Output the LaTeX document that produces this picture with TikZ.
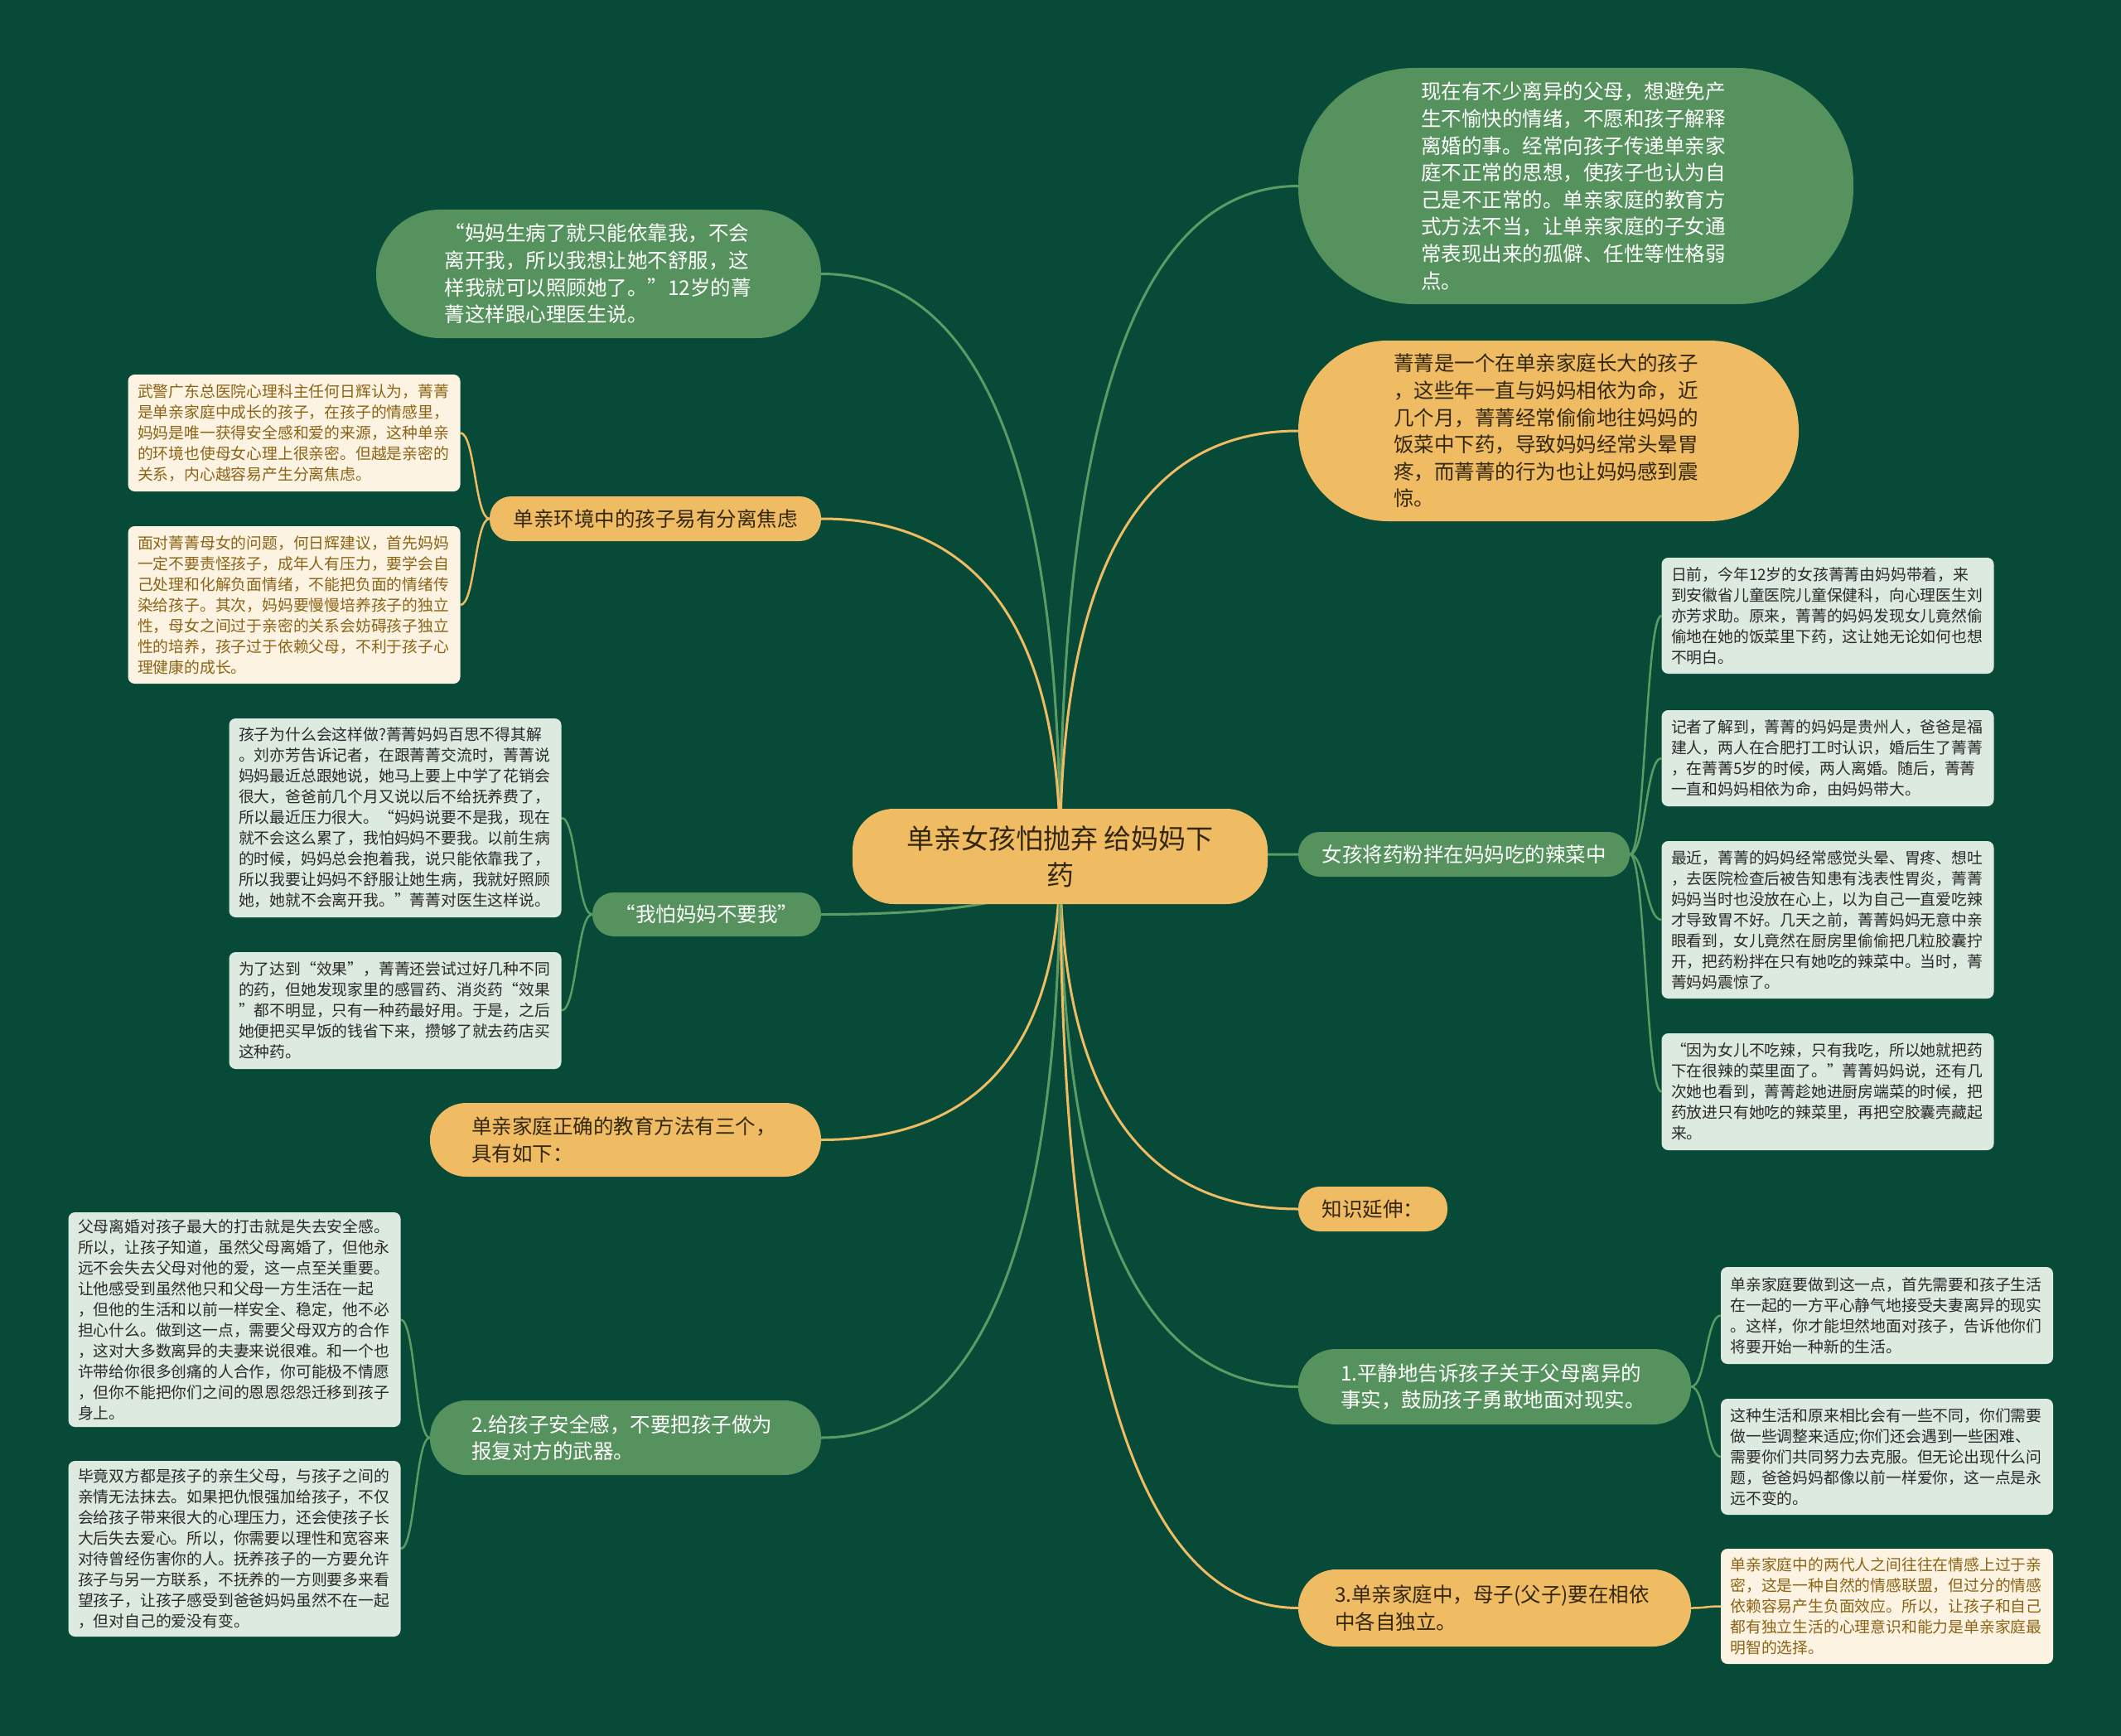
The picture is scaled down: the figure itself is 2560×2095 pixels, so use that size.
\documentclass[tikz,border=0pt]{standalone}
\usepackage{fontspec}
\setmainfont{Noto Sans CJK SC}
\usetikzlibrary{calc,backgrounds}
\definecolor{bgC}{HTML}{074A38}
\definecolor{greenC}{HTML}{56925E}
\definecolor{orangeC}{HTML}{F0BC63}
\definecolor{mintC}{HTML}{DDEAE0}
\definecolor{creamC}{HTML}{FDF3E3}
\definecolor{creamT}{HTML}{8B6415}
\definecolor{darkT}{HTML}{33270F}
\definecolor{boxT}{HTML}{2A2A2A}
\definecolor{lineG}{HTML}{5B9C64}
\definecolor{lineO}{HTML}{F0BC63}
\newcommand\mmmain[3]{\draw[#3] let \p1=(#1), \p2=(#2) in (\p1) .. controls (\x1,{\y1+0.667*(\y2-\y1)}) and ({\x2+0.667*(\x1-\x2)},\y2) .. (\p2);}
\newcommand\mmsub[3]{\draw[#3] let \p1=(#1), \p2=(#2) in (\p1) .. controls ({(\x1+\x2)/2},\y1) and ({(\x1+\x2)/2},\y2) .. (\p2);}
\begin{document}
\begin{tikzpicture}[x=1pt,y=-1pt,
  ctrnode/.style={fill=orangeC, text=darkT, rounded corners=50pt, minimum width=501pt, minimum height=115pt, align=center, inner sep=0pt, font=\fontsize{33}{44}\selectfont},
  gnode/.style={fill=greenC, text=white, inner sep=0pt, align=left, font=\fontsize{24.5}{32.6}\selectfont},
  onode/.style={fill=orangeC, text=darkT, inner sep=0pt, align=left, font=\fontsize{24.5}{32.6}\selectfont},
  mbox/.style={fill=mintC, text=boxT, rounded corners=8pt, inner sep=0pt, align=left, text width=378pt, minimum width=401pt, font=\fontsize{18.8}{25}\selectfont},
  cbox/.style={fill=creamC, text=creamT, rounded corners=8pt, inner sep=0pt, align=left, text width=378pt, minimum width=401pt, font=\fontsize{18.8}{25}\selectfont},
  mainG/.style={draw=lineG, line width=3pt},
  mainO/.style={draw=lineO, line width=3pt},
  subG/.style={draw=lineG, line width=2.5pt},
  subO/.style={draw=lineO, line width=2.5pt}]
\begin{scope}[on background layer]
\fill[bgC] (0,0) rectangle (2560,2095);
\end{scope}
\useasboundingbox (0,0) rectangle (2560,2095);

% centre
\node[ctrnode] (ctr) at (1279.5,1033.5) {单亲女孩怕抛弃 给妈妈下\\药};

% upper / right main branches
\node[gnode, minimum width=537pt, minimum height=155pt, rounded corners=77pt, text width=372pt] (tl) at (722.5,330.5)
{“妈妈生病了就只能依靠我，不会\\离开我，所以我想让她不舒服，这\\样我就可以照顾她了。”12岁的菁\\菁这样跟心理医生说。};
\node[gnode, minimum width=670pt, minimum height=285pt, rounded corners=140pt, text width=374pt] (tr) at (1902,224.5)
{现在有不少离异的父母，想避免产\\生不愉快的情绪，不愿和孩子解释\\离婚的事。经常向孩子传递单亲家\\庭不正常的思想，使孩子也认为自\\己是不正常的。单亲家庭的教育方\\式方法不当，让单亲家庭的子女通\\常表现出来的孤僻、任性等性格弱\\点。};
\node[onode, minimum width=604pt, minimum height=218pt, rounded corners=108pt, text width=374pt] (r2) at (1869,520)
{菁菁是一个在单亲家庭长大的孩子\\，这些年一直与妈妈相依为命，近\\几个月，菁菁经常偷偷地往妈妈的\\饭菜中下药，导致妈妈经常头晕胃\\疼，而菁菁的行为也让妈妈感到震\\惊。};
\node[gnode, minimum width=400pt, minimum height=54pt, rounded corners=26pt, align=center] (r3) at (1767,1031) {女孩将药粉拌在妈妈吃的辣菜中};
\node[onode, minimum width=180pt, minimum height=54pt, rounded corners=26pt, align=center] (r4) at (1657,1459) {知识延伸：};
\node[gnode, minimum width=474pt, minimum height=91pt, rounded corners=45pt, text width=372pt] (r5) at (1804,1673.5)
{1.平静地告诉孩子关于父母离异的\\事实，鼓励孩子勇敢地面对现实。};
\node[onode, minimum width=474pt, minimum height=93pt, rounded corners=46pt, text width=386pt] (r6) at (1804,1940.5)
{3.单亲家庭中，母子(父子)要在相依\\中各自独立。};

% left main branches
\node[onode, minimum width=400pt, minimum height=54pt, rounded corners=26pt, align=center] (l1) at (791,626) {单亲环境中的孩子易有分离焦虑};
\node[gnode, minimum width=276pt, minimum height=53pt, rounded corners=26pt, align=center] (l2) at (853,1103.5) {“我怕妈妈不要我”};
\node[onode, minimum width=472pt, minimum height=89pt, rounded corners=44pt, text width=372pt] (l3) at (755,1375.5)
{单亲家庭正确的教育方法有三个，\\具有如下：};
\node[gnode, minimum width=472pt, minimum height=90pt, rounded corners=44pt, text width=372pt] (l4) at (755,1735)
{2.给孩子安全感，不要把孩子做为\\报复对方的武器。};

% left boxes
\node[cbox, minimum height=141pt] (la) at (355,522.5)
{武警广东总医院心理科主任何日辉认为，菁菁\\是单亲家庭中成长的孩子，在孩子的情感里，\\妈妈是唯一获得安全感和爱的来源，这种单亲\\的环境也使母女心理上很亲密。但越是亲密的\\关系，内心越容易产生分离焦虑。};
\node[cbox, minimum height=190pt] (lb) at (355,730)
{面对菁菁母女的问题，何日辉建议，首先妈妈\\一定不要责怪孩子，成年人有压力，要学会自\\己处理和化解负面情绪，不能把负面的情绪传\\染给孩子。其次，妈妈要慢慢培养孩子的独立\\性，母女之间过于亲密的关系会妨碍孩子独立\\性的培养，孩子过于依赖父母，不利于孩子心\\理健康的成长。};
\node[mbox, minimum height=240pt] (lc) at (477,987)
{孩子为什么会这样做?菁菁妈妈百思不得其解\\。刘亦芳告诉记者，在跟菁菁交流时，菁菁说\\妈妈最近总跟她说，她马上要上中学了花销会\\很大，爸爸前几个月又说以后不给抚养费了，\\所以最近压力很大。“妈妈说要不是我，现在\\就不会这么累了，我怕妈妈不要我。以前生病\\的时候，妈妈总会抱着我，说只能依靠我了，\\所以我要让妈妈不舒服让她生病，我就好照顾\\她，她就不会离开我。”菁菁对医生这样说。};
\node[mbox, minimum height=141pt] (ld) at (477,1219.5)
{为了达到“效果”，菁菁还尝试过好几种不同\\的药，但她发现家里的感冒药、消炎药“效果\\”都不明显，只有一种药最好用。于是，之后\\她便把买早饭的钱省下来，攒够了就去药店买\\这种药。};
\node[mbox, minimum height=259pt] (le) at (283,1592.5)
{父母离婚对孩子最大的打击就是失去安全感。\\所以，让孩子知道，虽然父母离婚了，但他永\\远不会失去父母对他的爱，这一点至关重要。\\让他感受到虽然他只和父母一方生活在一起\\，但他的生活和以前一样安全、稳定，他不必\\担心什么。做到这一点，需要父母双方的合作\\，这对大多数离异的夫妻来说很难。和一个也\\许带给你很多创痛的人合作，你可能极不情愿\\，但你不能把你们之间的恩恩怨怨迁移到孩子\\身上。};
\node[mbox, minimum height=212pt] (lf) at (283,1869)
{毕竟双方都是孩子的亲生父母，与孩子之间的\\亲情无法抹去。如果把仇恨强加给孩子，不仅\\会给孩子带来很大的心理压力，还会使孩子长\\大后失去爱心。所以，你需要以理性和宽容来\\对待曾经伤害你的人。抚养孩子的一方要允许\\孩子与另一方联系，不抚养的一方则要多来看\\望孩子，让孩子感受到爸爸妈妈虽然不在一起\\，但对自己的爱没有变。};

% right boxes
\node[mbox, minimum height=140pt] (ra) at (2206,743)
{日前，今年12岁的女孩菁菁由妈妈带着，来\\到安徽省儿童医院儿童保健科，向心理医生刘\\亦芳求助。原来，菁菁的妈妈发现女儿竟然偷\\偷地在她的饭菜里下药，这让她无论如何也想\\不明白。};
\node[mbox, minimum height=116pt] (rb) at (2206,915)
{记者了解到，菁菁的妈妈是贵州人，爸爸是福\\建人，两人在合肥打工时认识，婚后生了菁菁\\，在菁菁5岁的时候，两人离婚。随后，菁菁\\一直和妈妈相依为命，由妈妈带大。};
\node[mbox, minimum height=190pt] (rc) at (2206,1110)
{最近，菁菁的妈妈经常感觉头晕、胃疼、想吐\\，去医院检查后被告知患有浅表性胃炎，菁菁\\妈妈当时也没放在心上，以为自己一直爱吃辣\\才导致胃不好。几天之前，菁菁妈妈无意中亲\\眼看到，女儿竟然在厨房里偷偷把几粒胶囊拧\\开，把药粉拌在只有她吃的辣菜中。当时，菁\\菁妈妈震惊了。};
\node[mbox, minimum height=141pt] (rd) at (2206,1317.5)
{“因为女儿不吃辣，只有我吃，所以她就把药\\下在很辣的菜里面了。”菁菁妈妈说，还有几\\次她也看到，菁菁趁她进厨房端菜的时候，把\\药放进只有她吃的辣菜里，再把空胶囊壳藏起\\来。};
\node[mbox, minimum height=117pt] (re) at (2277.5,1587.5)
{单亲家庭要做到这一点，首先需要和孩子生活\\在一起的一方平心静气地接受夫妻离异的现实\\。这样，你才能坦然地面对孩子，告诉他你们\\将要开始一种新的生活。};
\node[mbox, minimum height=140pt] (rf) at (2277.5,1758)
{这种生活和原来相比会有一些不同，你们需要\\做一些调整来适应;你们还会遇到一些困难、\\需要你们共同努力去克服。但无论出现什么问\\题，爸爸妈妈都像以前一样爱你，这一点是永\\远不变的。};
\node[cbox, minimum height=139pt] (rg) at (2277.5,1938.5)
{单亲家庭中的两代人之间往往在情感上过于亲\\密，这是一种自然的情感联盟，但过分的情感\\依赖容易产生负面效应。所以，让孩子和自己\\都有独立生活的心理意识和能力是单亲家庭最\\明智的选择。};

% connectors
\begin{scope}[on background layer]
\mmmain{ctr.center}{tl.east}{mainG}
\mmmain{ctr.center}{tr.west}{mainG}
\mmmain{ctr.center}{r2.west}{mainO}
\mmmain{ctr.center}{r3.west}{mainG}
\mmmain{ctr.center}{r4.west}{mainO}
\mmmain{ctr.center}{r5.west}{mainG}
\mmmain{ctr.center}{r6.west}{mainO}
\mmmain{ctr.center}{l1.east}{mainO}
\mmmain{ctr.center}{l2.east}{mainG}
\mmmain{ctr.center}{l3.east}{mainO}
\mmmain{ctr.center}{l4.east}{mainG}
\mmsub{l1.west}{la.east}{subO}
\mmsub{l1.west}{lb.east}{subO}
\mmsub{l2.west}{lc.east}{subG}
\mmsub{l2.west}{ld.east}{subG}
\mmsub{l4.west}{le.east}{subG}
\mmsub{l4.west}{lf.east}{subG}
\mmsub{r3.east}{ra.west}{subG}
\mmsub{r3.east}{rb.west}{subG}
\mmsub{r3.east}{rc.west}{subG}
\mmsub{r3.east}{rd.west}{subG}
\mmsub{r5.east}{re.west}{subG}
\mmsub{r5.east}{rf.west}{subG}
\mmsub{r6.east}{rg.west}{subO}
\end{scope}
\end{tikzpicture}
\end{document}
